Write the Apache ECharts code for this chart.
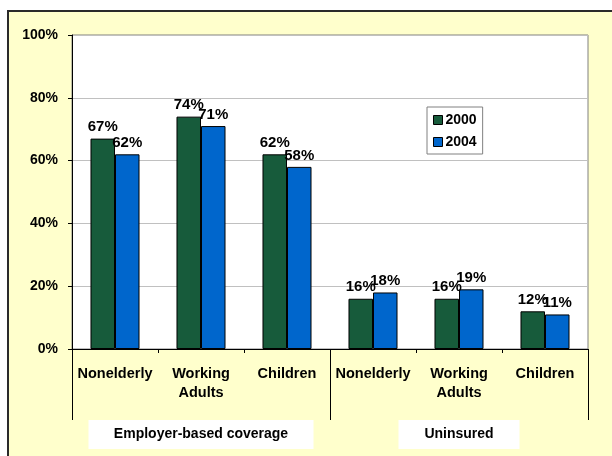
<!DOCTYPE html>
<html>
<head>
<meta charset="utf-8">
<script src="https://cdn.jsdelivr.net/npm/echarts@6/dist/echarts.min.js"></script>
<style>
  html, body { margin: 0; padding: 0; background: #ffffff; }
  #chart { width: 612px; height: 456px; }
</style>
</head>
<body>
<div id="chart"></div>
<script>
// Coverage shares by population group, 2000 vs 2004
const categories = ['Nonelderly', 'Working\nAdults', 'Children', 'Nonelderly', 'Working\nAdults', 'Children'];
const groups = ['Employer-based coverage', 'Uninsured'];
const values2000 = [67, 74, 62, 16, 16, 12];
const values2004 = [62, 71, 58, 18, 19, 11];
const yTicks = [0, 20, 40, 60, 80, 100];

const FONT = 'Arial, "Liberation Sans", sans-serif';
const GREEN = '#175B3B';
const BLUE = '#0066CC';

const chart = echarts.init(document.getElementById('chart'), null, { renderer: 'canvas' });

const barLabel = {
  show: true,
  position: 'top',
  distance: 4,
  formatter: p => p.value + '%',
  fontFamily: FONT,
  fontWeight: 'bold',
  fontSize: 15,
  color: '#000'
};

chart.setOption({
  backgroundColor: '#ffffff',
  animation: false,
  graphic: [{
    type: 'rect',
    z: -10,
    shape: { x: 8, y: 11, width: 700, height: 500 },
    style: { fill: '#FFFFCC', stroke: '#2a2a2a', lineWidth: 2 }
  }],
  grid: {
    left: 72, right: 24, top: 35, bottom: 107,
    show: true,
    backgroundColor: '#ffffff',
    borderColor: '#808080',
    borderWidth: 1
  },
  legend: {
    orient: 'vertical',
    left: 427, top: 107,
    padding: [6, 6, 5, 6],
    itemGap: 8,
    itemWidth: 9, itemHeight: 9,
    backgroundColor: '#ffffff',
    borderColor: '#808080',
    borderWidth: 1,
    textStyle: { fontFamily: FONT, fontWeight: 'bold', fontSize: 14, color: '#000', padding: [0, 0, 0, -2] },
    data: [
      { name: '2000', icon: 'rect', itemStyle: { color: GREEN, borderColor: '#000', borderWidth: 1 } },
      { name: '2004', icon: 'rect', itemStyle: { color: BLUE, borderColor: '#000', borderWidth: 1 } }
    ]
  },
  xAxis: [{
    type: 'category',
    data: categories,
    position: 'bottom',
    boundaryGap: true,
    axisLine: { show: true, lineStyle: { color: '#000', width: 1 } },
    axisTick: { show: true, alignWithLabel: false, interval: 0, length: 4, lineStyle: { color: '#000' } },
    axisLabel: {
      interval: 0,
      margin: 15,
      fontFamily: FONT, fontWeight: 'bold', fontSize: 14.5, color: '#000',
      lineHeight: 19
    },
    splitLine: { show: false }
  }, {
    type: 'category',
    data: groups,
    position: 'bottom',
    boundaryGap: true,
    axisLine: { show: false },
    axisTick: { show: true, interval: 0, length: 71, lineStyle: { color: '#000', width: 1 } },
    axisLabel: {
      interval: 0,
      margin: 71,
      formatter: v => (v === 'Uninsured' ? '{u|' + v + '}' : '{e|' + v + '}'),
      rich: {
        e: {
          width: 225, height: 29, align: 'center', verticalAlign: 'middle',
          backgroundColor: '#ffffff',
          fontFamily: FONT, fontWeight: 'bold', fontSize: 14, color: '#000'
        },
        u: {
          width: 121, height: 29, align: 'center', verticalAlign: 'middle',
          backgroundColor: '#ffffff',
          fontFamily: FONT, fontWeight: 'bold', fontSize: 14, color: '#000'
        }
      }
    }
  }],
  yAxis: {
    type: 'value',
    min: 0, max: 100, interval: 20,
    axisLine: { show: true, lineStyle: { color: '#000', width: 1 } },
    axisTick: { show: true, length: 4, lineStyle: { color: '#000' } },
    axisLabel: {
      margin: 14,
      formatter: v => (yTicks.includes(v) ? v + '%' : ''),
      fontFamily: FONT, fontWeight: 'bold', fontSize: 14, color: '#000'
    },
    splitLine: { show: true, lineStyle: { color: '#C0C0C0', width: 1 } }
  },
  series: [{
    name: '2000',
    type: 'bar',
    xAxisIndex: 0,
    data: values2000,
    barGap: '0%',
    barCategoryGap: '43%',
    itemStyle: { color: GREEN, borderColor: '#000', borderWidth: 1 },
    label: barLabel
  }, {
    name: '2004',
    type: 'bar',
    xAxisIndex: 0,
    data: values2004,
    barGap: '0%',
    barCategoryGap: '43%',
    itemStyle: { color: BLUE, borderColor: '#000', borderWidth: 1 },
    label: barLabel
  }]
});
</script>
</body>
</html>
